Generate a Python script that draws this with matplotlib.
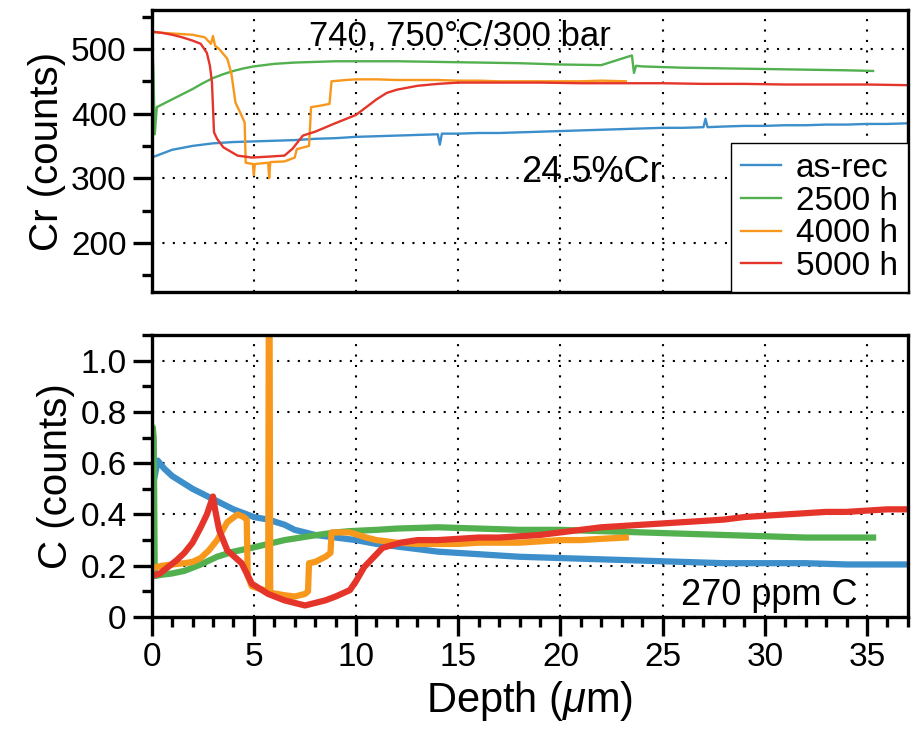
import matplotlib
matplotlib.use("Agg")
import matplotlib.pyplot as plt
from matplotlib.ticker import MultipleLocator

plt.rcParams['font.family'] = ['Liberation Sans', 'DejaVu Sans']
plt.rcParams['mathtext.fontset'] = 'custom'
plt.rcParams['mathtext.it'] = 'Liberation Sans:italic'
plt.rcParams['mathtext.rm'] = 'Liberation Sans'

labels = ['as-rec', '2500 h', '4000 h', '5000 h']
colors = ['#3d8fcc', '#52b04f', '#f7981d', '#e5352a']

# --- Cr profiles (top panel) ---
cr_asrec_x = [0, 0.5, 1, 1.5, 2, 2.5, 3, 3.5, 4, 5, 6, 7, 8, 9, 10, 11, 12, 13, 14, 14.1, 14.2,
              15, 16, 17, 18, 19, 20, 21, 22, 23, 24, 25, 26, 27, 27.1, 27.2, 28, 29, 30, 31,
              32, 33, 34, 35, 36, 37]
cr_asrec = [332, 338, 344, 347, 350, 352, 354, 355, 356, 357, 358, 359, 361, 362, 364, 365, 366,
            367, 368, 352, 369, 369, 370, 370, 371, 372, 373, 374, 375, 376, 377, 378, 378, 379,
            392, 379, 380, 381, 381, 382, 382, 383, 383, 384, 384, 385]

cr_2500_x = [0, 0.08, 0.15, 0.25, 0.5, 1, 1.5, 2, 2.5, 3, 3.5, 4, 4.5, 5, 6, 7, 8, 9, 10, 12,
             14, 16, 18, 20, 22, 23.5, 23.6, 23.7, 24, 26, 28, 30, 32, 34, 35.3]
cr_2500 = [525, 470, 368, 410, 414, 422, 430, 438, 447, 455, 461, 466, 470, 473, 477, 479, 480,
           481, 481, 481, 480, 479, 478, 476, 475, 490, 463, 474, 473, 471, 470, 469, 468, 467, 466]

cr_4000_x = [0, 1, 2, 2.6, 2.9, 3.0, 3.1, 3.3, 3.7, 3.9, 4.1, 4.4, 4.55, 4.6, 4.95, 5.0, 5.05,
             5.7, 5.75, 5.8, 6.5, 7.0, 7.1, 7.7, 7.8, 8.2, 8.7, 8.8, 9.5, 10, 11, 12, 13, 14, 15,
             16, 17, 18, 19, 20, 21, 22, 23.2]
cr_4000 = [526, 524, 522, 518, 508, 520, 505, 500, 485, 462, 417, 397, 386, 324, 322, 305, 322,
           324, 300, 325, 326, 332, 345, 350, 410, 412, 415, 450, 452, 453, 453, 452, 452, 452,
           451, 451, 450, 450, 450, 450, 450, 451, 450]

cr_5000_x = [0, 0.5, 1, 1.5, 2, 2.4, 2.7, 2.85, 2.95, 3.05, 3.2, 3.5, 4.2, 4.9, 5.5, 6.5, 6.9,
             7.4, 8, 8.9, 10, 10.5, 11, 11.5, 12, 13, 14, 15, 17, 19, 21, 23, 25, 27, 29, 31,
             33, 35, 37]
cr_5000 = [527, 525, 522, 518, 513, 508, 494, 474, 448, 371, 361, 348, 335, 332, 333, 335, 346,
           366, 372, 384, 398, 410, 422, 432, 437, 443, 446, 448, 448, 448, 447, 447, 447, 446,
           446, 445, 445, 445, 444]

# --- C profiles (bottom panel) ---
c_asrec_x = [0.15, 0.3, 0.6, 1, 1.6, 2, 2.5, 3, 3.5, 4, 5, 5.7, 6.5, 7, 8, 9, 10, 11, 12, 13,
             14, 16, 18, 20, 22, 24, 26, 28, 30, 32, 34, 36, 37]
c_asrec = [0.55, 0.61, 0.58, 0.55, 0.52, 0.50, 0.48, 0.46, 0.44, 0.42, 0.39, 0.38, 0.36, 0.34,
           0.32, 0.31, 0.30, 0.285, 0.275, 0.265, 0.255, 0.245, 0.235, 0.23, 0.225, 0.22, 0.215,
           0.21, 0.21, 0.21, 0.205, 0.205, 0.205]

c_2500_x = [0, 0.05, 0.1, 0.15, 0.5, 1, 1.6, 2.4, 3.2, 4, 4.9, 5.7, 6.5, 7.3, 8.1, 9, 9.7, 11,
            12, 14, 16, 18, 20, 22, 24, 26, 28, 30, 32, 34, 35.3]
c_2500 = [0.2, 0.74, 0.70, 0.16, 0.165, 0.17, 0.18, 0.205, 0.235, 0.255, 0.27, 0.285, 0.30,
          0.31, 0.32, 0.33, 0.335, 0.34, 0.345, 0.35, 0.345, 0.34, 0.34, 0.335, 0.33, 0.325,
          0.32, 0.315, 0.31, 0.31, 0.31]

c_4000_x = [0, 0.5, 1, 1.6, 2.0, 2.4, 2.8, 3.2, 3.7, 4.2, 4.5, 4.65, 4.7, 4.9, 5.3, 5.7, 5.74,
            5.76, 5.8, 6.5, 7.0, 7.5, 7.65, 7.7, 8.0, 8.5, 8.75, 8.8, 9.2, 9.7, 10.5, 11, 12,
            13, 14, 15, 16, 17, 18, 19, 20, 21, 22, 23.2]
c_4000 = [0.19, 0.20, 0.205, 0.21, 0.215, 0.23, 0.26, 0.30, 0.37, 0.40, 0.39, 0.38, 0.16, 0.12,
          0.11, 0.10, 1.5, 1.5, 0.095, 0.085, 0.08, 0.09, 0.10, 0.21, 0.215, 0.235, 0.25, 0.33,
          0.33, 0.33, 0.31, 0.30, 0.29, 0.285, 0.285, 0.285, 0.29, 0.29, 0.29, 0.295, 0.30,
          0.30, 0.305, 0.31]

c_5000_x = [0, 0.4, 0.8, 1.2, 1.6, 2.0, 2.4, 2.7, 3.0, 3.1, 3.3, 3.7, 4.4, 4.9, 5.7, 6.5, 7.5,
            8.5, 9.0, 9.7, 10.0, 10.4, 11.3, 12.2, 13, 14, 15, 16, 17, 18, 19, 20, 21, 22, 23,
            24, 25, 26, 27, 28, 29, 30, 31, 32, 33, 34, 35, 36, 37]
c_5000 = [0.16, 0.17, 0.195, 0.22, 0.25, 0.29, 0.35, 0.40, 0.47, 0.42, 0.34, 0.26, 0.21, 0.13,
          0.09, 0.065, 0.045, 0.065, 0.08, 0.105, 0.14, 0.195, 0.27, 0.29, 0.30, 0.30, 0.305,
          0.31, 0.31, 0.315, 0.32, 0.33, 0.34, 0.35, 0.355, 0.36, 0.365, 0.37, 0.375, 0.38,
          0.39, 0.395, 0.40, 0.405, 0.41, 0.41, 0.415, 0.42, 0.42]

cr_series = [(cr_asrec_x, cr_asrec), (cr_2500_x, cr_2500), (cr_4000_x, cr_4000), (cr_5000_x, cr_5000)]
c_series = [(c_asrec_x, c_asrec), (c_2500_x, c_2500), (c_4000_x, c_4000), (c_5000_x, c_5000)]

fig = plt.figure(figsize=(9.11, 7.29), dpi=100)
ax1 = fig.add_axes([0.1665, 0.5995, 0.830, 0.3865])
ax2 = fig.add_axes([0.1665, 0.1536, 0.830, 0.3869])

grid_kw = dict(color='black', linestyle=(0, (1, 4)), linewidth=1.5)

for ax in (ax1, ax2):
    ax.set_xlim(0, 37)
    ax.xaxis.set_major_locator(MultipleLocator(5))
    ax.xaxis.set_minor_locator(MultipleLocator(1))
    ax.grid(True, which='major', **grid_kw)
    ax.set_axisbelow(True)
    for s in ax.spines.values():
        s.set_linewidth(2.4)
    ax.tick_params(which='major', length=14, width=2.4, labelsize=24, direction='out', pad=4)
    ax.tick_params(which='minor', length=7, width=2.4, direction='out')

for (x, y), lab, c in zip(cr_series, labels, colors):
    ax1.plot(x, y, color=c, lw=1.7, label=lab)
ax1.set_ylim(124, 560)
ax1.yaxis.set_major_locator(MultipleLocator(100))
ax1.yaxis.set_minor_locator(MultipleLocator(50))
ax1.tick_params(axis='x', which='both', bottom=False, labelbottom=False)
ax1.set_ylabel('Cr (counts)', fontsize=29, labelpad=4)
ax1.text(7.7, 505, '740, 750°C/300 bar', fontsize=25, va='baseline')
ax1.text(18.1, 294, '24.5%Cr', fontsize=26, va='baseline')
leg = ax1.legend(loc='lower right', fontsize=24, frameon=True, fancybox=False,
                 borderaxespad=0, handlelength=1.2, handletextpad=0.45,
                 labelspacing=0.05, borderpad=0.3)
leg.get_frame().set_edgecolor('black')
leg.get_frame().set_linewidth(1.0)
leg.get_frame().set_alpha(1)

for (x, y), c in zip(c_series, colors):
    ax2.plot(x, y, color=c, lw=4.5)
ax2.set_ylim(0, 1.1)
ax2.yaxis.set_minor_locator(MultipleLocator(0.1))
ax2.set_yticks([0, 0.2, 0.4, 0.6, 0.8, 1.0])
ax2.set_yticklabels(['0', '0.2', '0.4', '0.6', '0.8', '1.0'])
ax2.set_ylabel('C (counts)', fontsize=29, labelpad=4)
ax2.set_xlabel(r'Depth ($\mathit{\mu}$m)', fontsize=30, labelpad=4)
ax2.text(25.9, 0.046, '270 ppm C', fontsize=26, va='baseline')

fig.savefig('out.png', dpi=100)
